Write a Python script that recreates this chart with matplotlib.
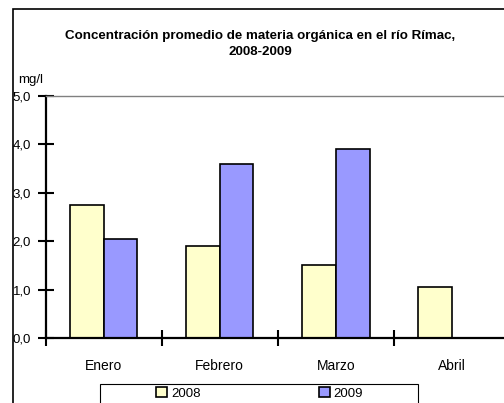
import matplotlib

matplotlib.use("Agg")
import matplotlib.pyplot as plt
from matplotlib.patches import Rectangle

months = ["Enero", "Febrero", "Marzo", "Abril"]
series_2008 = [2.75, 1.9, 1.5, 1.05]
series_2009 = [2.05, 3.6, 3.9, None]
y_ticks = [0, 1, 2, 3, 4, 5]

plt.rcParams["font.family"] = ["Liberation Sans", "DejaVu Sans"]
YELLOW, LILAC = "#FFFFCC", "#9999FF"

W, H = 504, 403
fig = plt.figure(figsize=(W / 100, H / 100), dpi=100)
ax = fig.add_axes([45.7 / W, 1 - 338 / H, (510 - 45.7) / W, (338 - 95.7) / H])

w = 0.29
xs = range(len(months))
ax.bar([i - w / 2 for i in xs], series_2008, w, color=YELLOW, edgecolor="black",
       linewidth=1.2, label="2008")
x09 = [i + w / 2 for i, v in zip(xs, series_2009) if v is not None]
v09 = [v for v in series_2009 if v is not None]
ax.bar(x09, v09, w, color=LILAC, edgecolor="black", linewidth=1.2, label="2009")

ax.set_xlim(-0.5, 3.5)
ax.set_ylim(0, 5)
ax.set_yticks(y_ticks)
ax.set_yticklabels([f"{t:.1f}".replace(".", ",") for t in y_ticks], fontsize=9.5)
ax.set_xticks(list(xs))
ax.set_xticklabels(months, fontsize=10)
ax.set_xticks([i - 0.5 for i in range(len(months) + 1)], minor=True)
ax.tick_params(axis="x", which="major", length=0, pad=15)
ax.tick_params(axis="x", which="minor", direction="inout", length=11, width=1.5)
ax.tick_params(axis="y", direction="inout", length=12, width=1.5, pad=4.5)

for s in ("left", "bottom"):
    ax.spines[s].set_linewidth(1.6)
ax.spines["top"].set_color("#808080")
ax.spines["top"].set_linewidth(1.0)
ax.spines["right"].set_visible(False)

fig.text(260 / W, 1 - 44 / H, "Concentración promedio de materia orgánica en el río Rímac,\n2008-2009",
         ha="center", va="center", fontsize=9.6, fontweight="bold", linespacing=1.45)
fig.text(18 / W, 1 - 80 / H, "mg/l", ha="left", va="center", fontsize=9.5)

# outer chart frame
fig.patches.append(Rectangle((13 / W, -0.1), 1.2, 1 - 9 / H + 0.1, transform=fig.transFigure,
                             fill=False, edgecolor="black", linewidth=1.2))
# legend frame
fig.patches.append(Rectangle((100 / W, -0.1), (418 - 100) / W, 1 - 384 / H + 0.1,
                             transform=fig.transFigure, fill=False, edgecolor="black",
                             linewidth=0.8))

leg = fig.legend(loc="upper left", bbox_to_anchor=(155 / W, 1 - 386 / H), ncol=2,
                 fontsize=9.5, frameon=False, handlelength=0.8, handleheight=0.8,
                 handletextpad=0.3, borderpad=0.1, borderaxespad=0, columnspacing=9.0)

fig.savefig("out.png", dpi=100)
